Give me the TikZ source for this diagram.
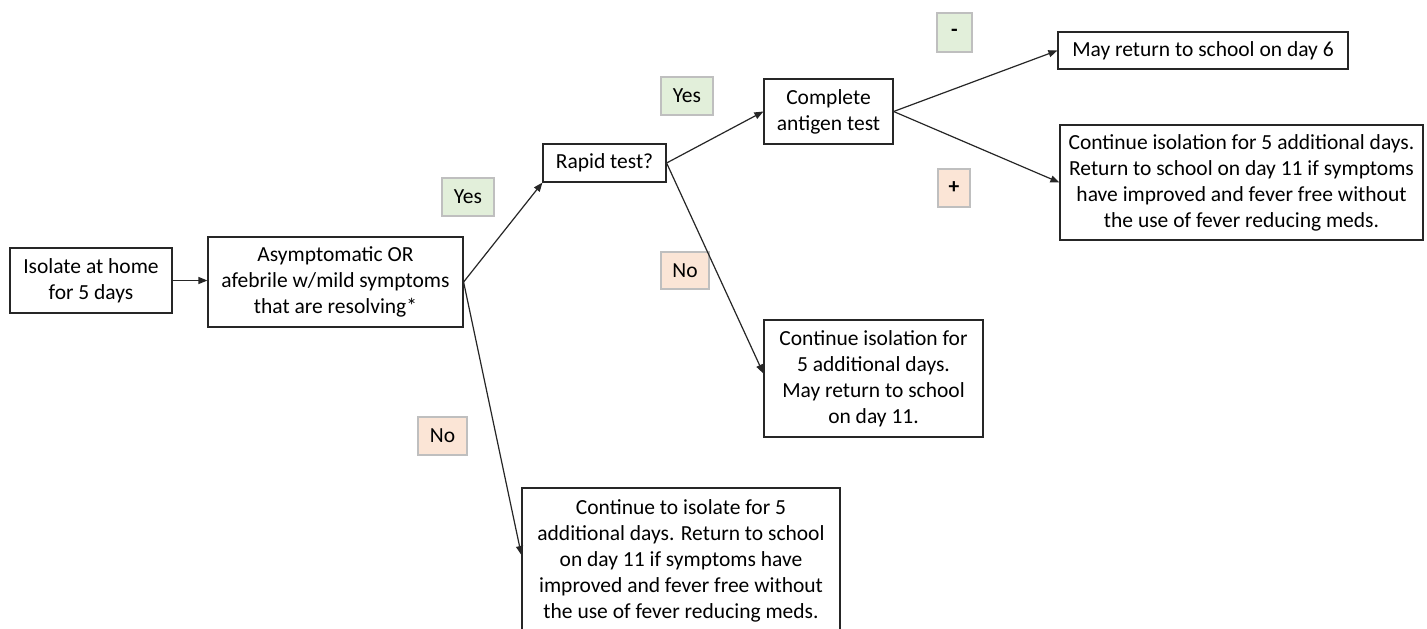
\documentclass[tikz,border=0pt]{standalone}
\usepackage{fontspec}
\setmainfont{Carlito}
\usetikzlibrary{arrows.meta}
\definecolor{lgreen}{HTML}{E2EFDA}
\definecolor{lpink}{HTML}{FBE5D6}
\definecolor{lborder}{HTML}{BFBFBF}
\definecolor{boxline}{HTML}{262626}
\tikzset{
  box/.style={draw=boxline, line width=1.2pt, fill=white, inner sep=0pt, align=center,
    font=\fontsize{21.5}{26}\selectfont},
  yeslab/.style={draw=lborder, line width=1.3pt, fill=lgreen, inner sep=0pt,
    font=\fontsize{21.5}{26}\selectfont},
  nolab/.style={draw=lborder, line width=1.3pt, fill=lpink, inner sep=0pt,
    font=\fontsize{21.5}{26}\selectfont},
  conn/.style={draw=boxline, line width=1.2pt, -{Triangle[length=9pt,width=7pt]}}
}
\begin{document}
\begin{tikzpicture}[x=1pt,y=-1pt]
\clip (0,0) rectangle (1427,629);
\useasboundingbox (0,0) rectangle (1427,629);
\fill[white] (0,0) rectangle (1427,629);
% boxes
\node[box, minimum width=162, minimum height=65] (iso) at (91,280.5) {Isolate at home\\for 5 days};
\node[box, minimum width=255, minimum height=90] (asym) at (335.5,282) {Asymptomatic OR\\afebrile w/mild symptoms\\that are resolving*};
\node[box, minimum width=123, minimum height=38] (rapid) at (604.5,163) {Rapid test?};
\node[box, minimum width=129, minimum height=65] (anti) at (828.5,111.5) {Complete\\antigen test};
\node[box, minimum width=290, minimum height=37] (may) at (1203,50.5) {May return to school on day 6};
\node[box, minimum width=363, minimum height=115] (contR) at (1241.5,182.5) {Continue isolation for 5 additional days.\\Return to school on day 11 if symptoms\\have improved and fever free without\\the use of fever reducing meds.};
\node[box, minimum width=219, minimum height=117] (contM) at (873.5,378.5) {Continue isolation for\\5 additional days.\\May return to school\\on day 11.};
\node[box, minimum width=318, minimum height=146] (bot) at (681,561) {Continue to isolate for 5\\additional days. Return to school\\on day 11 if symptoms have\\improved and fever free without\\the use of fever reducing meds.};
% labels
\node[yeslab, minimum width=52, minimum height=38] (yes1) at (468,197) {Yes};
\node[yeslab, minimum width=52, minimum height=38] (yes2) at (687,96) {Yes};
\node[yeslab, minimum width=35, minimum height=39] (minus) at (954.5,32.5) {\textbf{-}};
\node[nolab, minimum width=32, minimum height=38] (plus) at (954,188) {\textbf{+}};
\node[nolab, minimum width=48, minimum height=37] (no1) at (685,270.5) {No};
\node[nolab, minimum width=49, minimum height=38] (no2) at (442.5,436) {No};
% connectors
\draw[conn] (iso.east) -- (asym.west |- iso.east);
\draw[conn] (asym.east) -- (rapid.south west);
\draw[conn] (asym.east) -- ([yshift=6pt]bot.west);
\draw[conn] (rapid.east) -- (anti.west);
\draw[conn] (rapid.east) -- ([yshift=5pt]contM.west);
\draw[conn] (anti.east) -- (may.west);
\draw[conn] (anti.east) -- (contR.west);
\end{tikzpicture}
\end{document}
